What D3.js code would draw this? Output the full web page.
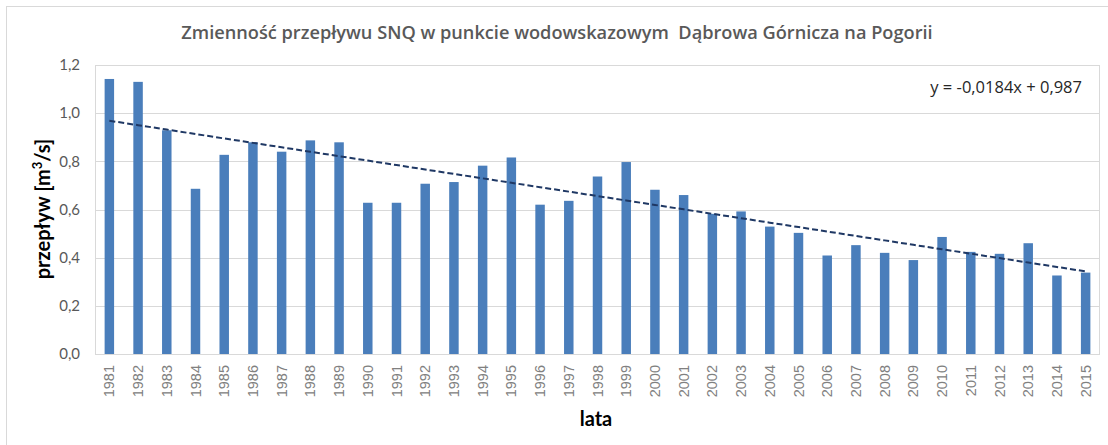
<!DOCTYPE html>
<html>
<head>
<meta charset="utf-8">
<script src="https://cdn.jsdelivr.net/npm/d3@7"></script>
<style>
  body { margin: 0; background: #fff; }
  svg { display: block; }
</style>
</head>
<body>
<div id="chart"></div>
<script>
// data
const years = ['1981','1982','1983','1984','1985','1986','1987','1988','1989','1990',
  '1991','1992','1993','1994','1995','1996','1997','1998','1999','2000',
  '2001','2002','2003','2004','2005','2006','2007','2008','2009','2010',
  '2011','2012','2013','2014','2015'];
const snq = [1.142, 1.130, 0.929, 0.686, 0.827, 0.879, 0.840, 0.887, 0.879, 0.628,
  0.628, 0.707, 0.714, 0.782, 0.816, 0.620, 0.636, 0.737, 0.797, 0.682,
  0.660, 0.582, 0.592, 0.529, 0.503, 0.409, 0.452, 0.420, 0.390, 0.486,
  0.424, 0.416, 0.460, 0.326, 0.338];
const yTicks = [0, 0.2, 0.4, 0.6, 0.8, 1.0, 1.2];
const trendSlope = -0.0184;
const trendIntercept = 0.987;

const width = 1108, height = 445;
const margin = { top: 65, right: 8, bottom: 91, left: 95 };
const innerW = width - margin.left - margin.right;
const innerH = height - margin.top - margin.bottom;

const svg = d3.select('#chart').append('svg')
  .attr('width', width)
  .attr('height', height);

// outer chart border
svg.append('rect')
  .attr('x', 6.5).attr('y', 6.5)
  .attr('width', width).attr('height', height)
  .attr('fill', 'none')
  .attr('stroke', '#d9d9d9');

svg.append('text')
  .attr('x', 557).attr('y', 39)
  .attr('text-anchor', 'middle')
  .attr('xml:space', 'preserve')
  .attr('font-family', '"Open Sans", Lato, sans-serif')
  .attr('font-size', 18.2)
  .attr('font-weight', 600)
  .attr('fill', '#595959')
  .text('Zmienność przepływu SNQ w punkcie wodowskazowym  Dąbrowa Górnicza na Pogorii');

const chart = svg.append('g')
  .attr('transform', `translate(${margin.left},${margin.top})`);

const xScale = d3.scaleBand()
  .domain(years)
  .range([0, innerW])
  .paddingInner(0.67)
  .paddingOuter(0.335);

const yScale = d3.scaleLinear()
  .domain([0, 1.2])
  .range([innerH, 0]);

// gridlines
chart.append('g')
  .selectAll('line')
  .data(yTicks)
  .join('line')
  .attr('x1', 0).attr('x2', innerW)
  .attr('y1', d => Math.round(yScale(d)) + 0.5)
  .attr('y2', d => Math.round(yScale(d)) + 0.5)
  .attr('stroke', '#d9d9d9');

// plot area border
chart.append('rect')
  .attr('x', 0.5).attr('y', 0.5)
  .attr('width', innerW - 1).attr('height', innerH)
  .attr('fill', 'none')
  .attr('stroke', '#d9d9d9');

chart.selectAll('.bar')
  .data(snq)
  .join('rect')
  .attr('class', 'bar')
  .attr('x', (d, i) => xScale(years[i]))
  .attr('y', d => yScale(d))
  .attr('width', xScale.bandwidth())
  .attr('height', d => innerH - yScale(d))
  .attr('fill', '#4a7ebb');

// linear trend line, x = 1..n
const trendVals = years.map((y, i) => trendSlope * (i + 1) + trendIntercept);
chart.append('path')
  .datum(trendVals)
  .attr('d', d3.line()
    .x((d, i) => xScale(years[i]) + xScale.bandwidth() / 2)
    .y(d => yScale(d)))
  .attr('fill', 'none')
  .attr('stroke', '#1f3864')
  .attr('stroke-width', 2)
  .attr('stroke-dasharray', '6,3');

chart.append('text')
  .attr('x', innerW - 18).attr('y', 28)
  .attr('text-anchor', 'end')
  .attr('font-family', '"Open Sans", Lato, sans-serif')
  .attr('font-size', 16.5)
  .attr('fill', '#262626')
  .text('y = -0,0184x + 0,987');

// y axis
const yAxis = chart.append('g')
  .call(d3.axisLeft(yScale).tickValues(yTicks)
    .tickFormat(d => d3.format('.1f')(d).replace('.', ','))
    .tickSize(0).tickPadding(15));
yAxis.select('.domain').remove();
yAxis.selectAll('text')
  .attr('font-family', 'Lato, "Open Sans", sans-serif')
  .attr('font-size', 15)
  .attr('fill', '#595959');

// x axis
const xAxis = chart.append('g')
  .attr('transform', `translate(0,${innerH})`)
  .call(d3.axisBottom(xScale).tickSize(0));
xAxis.select('.domain').remove();
xAxis.selectAll('text')
  .attr('font-family', '"Liberation Sans", Arial, sans-serif')
  .attr('font-size', 14.5)
  .attr('fill', '#808080')
  .attr('transform', 'rotate(-90)')
  .attr('text-anchor', 'end')
  .attr('dy', '0.35em')
  .attr('x', -11)
  .attr('y', 0);

svg.append('text')
  .attr('transform', 'translate(50,209) rotate(-90)')
  .attr('text-anchor', 'middle')
  .attr('font-family', 'Lato, "Open Sans", sans-serif')
  .attr('font-size', 20)
  .attr('font-weight', 'bold')
  .attr('fill', '#000')
  .html('przepływ [m<tspan baseline-shift="super" font-size="13">3</tspan>/s]');

svg.append('text')
  .attr('x', 596).attr('y', 426)
  .attr('text-anchor', 'middle')
  .attr('font-family', 'Lato, "Open Sans", sans-serif')
  .attr('font-size', 20)
  .attr('font-weight', 'bold')
  .attr('fill', '#000')
  .text('lata');
</script>
</body>
</html>
